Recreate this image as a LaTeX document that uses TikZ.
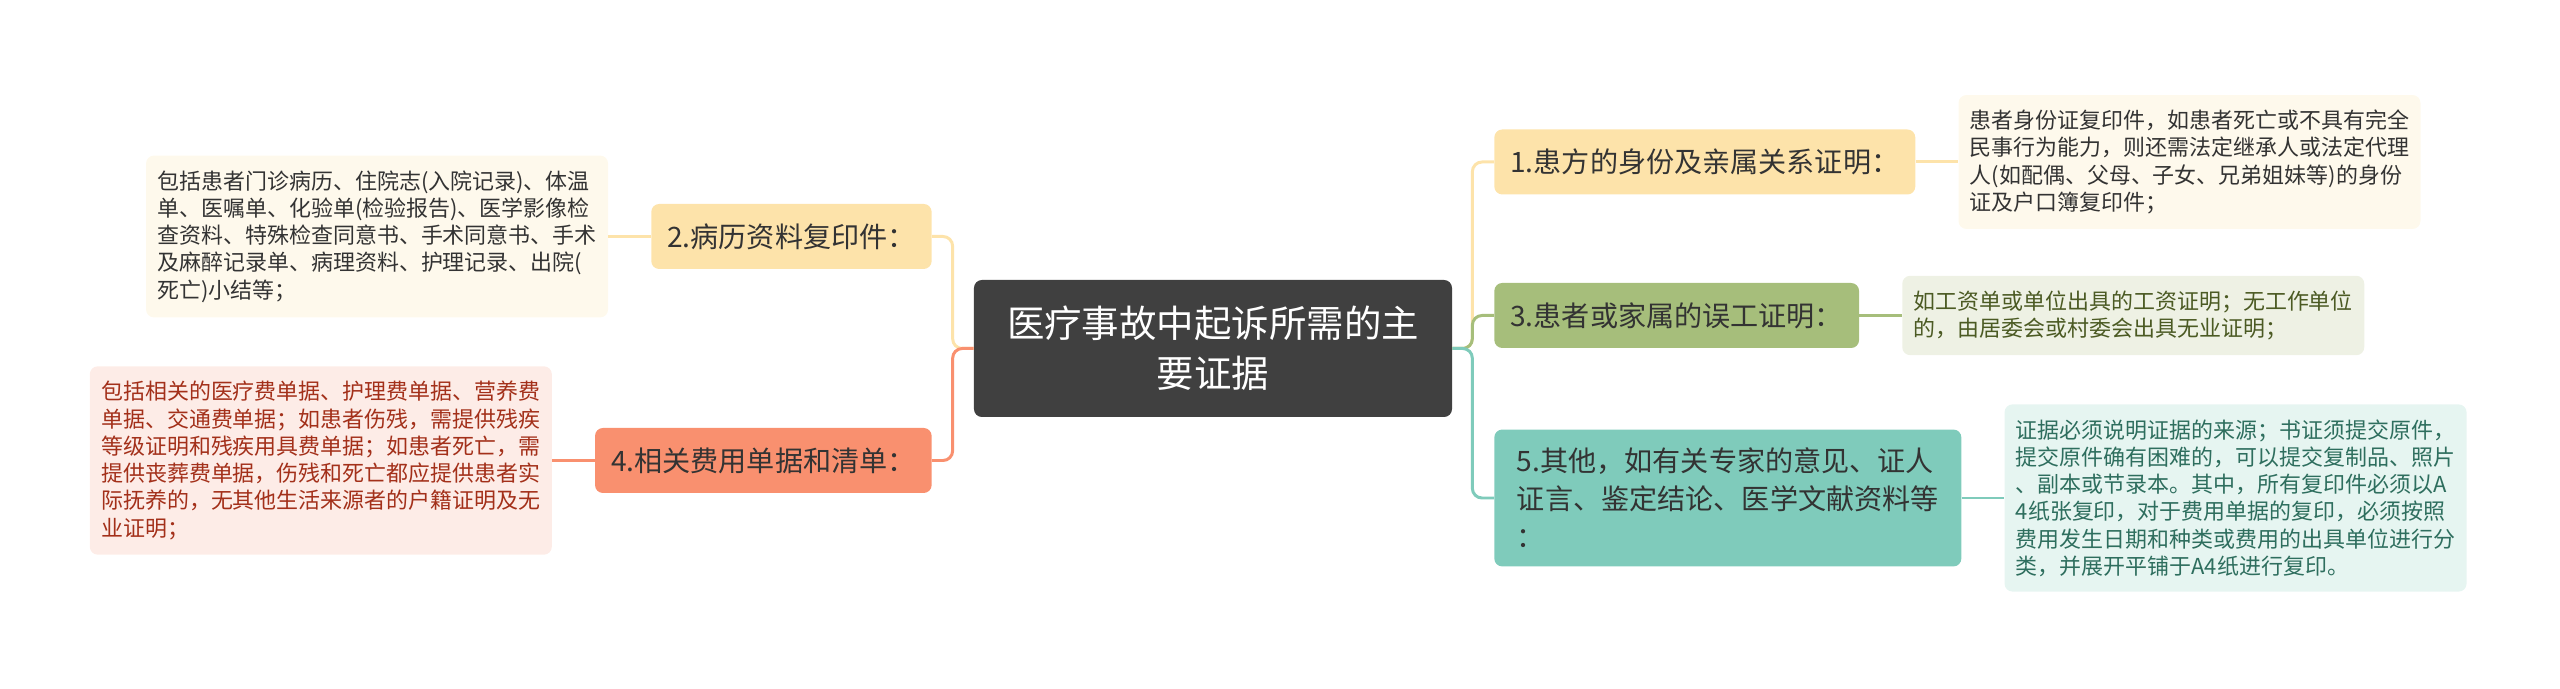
\documentclass[tikz,border=0pt]{standalone}
\usepackage{fontspec}
\newfontfamily\cjk{Noto Sans CJK SC}
\usetikzlibrary{positioning}
\definecolor{rootgray}{HTML}{404040}
\definecolor{sand}{HTML}{FDE3AA}
\definecolor{sandlight}{HTML}{FEF9EC}
\definecolor{olive}{HTML}{A6BE7B}
\definecolor{olivelight}{HTML}{EEF1E4}
\definecolor{olivetext}{HTML}{4B5A23}
\definecolor{mint}{HTML}{7FCBBB}
\definecolor{mintlight}{HTML}{E6F5F1}
\definecolor{minttext}{HTML}{2E6E5E}
\definecolor{coral}{HTML}{F9906F}
\definecolor{corallight}{HTML}{FDECE7}
\definecolor{coraltext}{HTML}{A3301A}

\begin{document}
\begin{tikzpicture}[
    node distance=0.85cm,
    root/.style={fill=rootgray, text=white, rounded corners=4.5pt, minimum width=9.56cm, minimum height=2.74cm, align=center, font=\cjk\fontsize{21.3}{28.4}\selectfont},
    branch/.style={rounded corners=4.5pt, inner xsep=0.32cm, inner ysep=0.37cm, minimum height=1.3cm, align=left, text=black!80, font=\cjk\fontsize{16}{21.6}\selectfont},
    detail/.style={rounded corners=4.5pt, minimum width=9.24cm, inner xsep=0.22cm, inner ysep=0.3cm, align=left, font=\cjk\fontsize{12.5}{15.5}\selectfont},
    link/.style={line width=1.7pt, rounded corners=5.5pt}
]
\useasboundingbox (-24.26,-6.81) rectangle (26.94,6.97);
\node[root] (root) at (0,0) {医疗事故中起诉所需的主\\要证据};

% right side
\node[branch, fill=sand, anchor=west] (n1) at (5.62,3.73) {1.患方的身份及亲属关系证明：};
\node[branch, fill=olive, anchor=west] (n3) at (5.62,0.66) {3.患者或家属的误工证明：};
\node[branch, fill=mint, anchor=west, minimum width=9.34cm] (n5) at (5.62,-2.99) {5.其他，如有关专家的意见、证人\\证言、鉴定结论、医学文献资料等\\：};
\node[detail, fill=sandlight, text=black!80, right=of n1] (d1) {患者身份证复印件，如患者死亡或不具有完全\\民事行为能力，则还需法定继承人或法定代理\\人(如配偶、父母、子女、兄弟姐妹等)的身份\\证及户口簿复印件；};
\node[detail, fill=olivelight, text=olivetext, right=of n3] (d3) {如工资单或单位出具的工资证明；无工作单位\\的，由居委会或村委会出具无业证明；};
\node[detail, fill=mintlight, text=minttext, right=of n5] (d5) {证据必须说明证据的来源；书证须提交原件，\\提交原件确有困难的，可以提交复制品、照片\\、副本或节录本。其中，所有复印件必须以A\\4纸张复印，对于费用单据的复印，必须按照\\费用发生日期和种类或费用的出具单位进行分\\类，并展开平铺于A4纸进行复印。};

% left side
\node[branch, fill=sand, anchor=east] (n2) at (-5.62,2.24) {2.病历资料复印件：};
\node[branch, fill=coral, anchor=east] (n4) at (-5.62,-2.24) {4.相关费用单据和清单：};
\node[detail, fill=sandlight, text=black!80, left=of n2] (d2) {包括患者门诊病历、住院志(入院记录)、体温\\单、医嘱单、化验单(检验报告)、医学影像检\\查资料、特殊检查同意书、手术同意书、手术\\及麻醉记录单、病理资料、护理记录、出院(\\死亡)小结等；};
\node[detail, fill=corallight, text=coraltext, left=of n4] (d4) {包括相关的医疗费单据、护理费单据、营养费\\单据、交通费单据；如患者伤残，需提供残疾\\等级证明和残疾用具费单据；如患者死亡，需\\提供丧葬费单据，伤残和死亡都应提供患者实\\际抚养的，无其他生活来源者的户籍证明及无\\业证明；};

\draw[link, sand] (root.east) -- ++(0.4,0) |- (n1.west);
\draw[link, olive] (root.east) -- ++(0.4,0) |- (n3.west);
\draw[link, mint] (root.east) -- ++(0.4,0) |- (n5.west);
\draw[link, sand] (root.west) -- ++(-0.42,0) |- (n2.east);
\draw[link, coral] (root.west) -- ++(-0.42,0) |- (n4.east);
\draw[link, sand] (n1) -- (d1);
\draw[link, olive] (n3) -- (d3);
\draw[link, mint] (n5) -- (d5);
\draw[link, sand] (n2) -- (d2);
\draw[link, coral] (n4) -- (d4);
\end{tikzpicture}
\end{document}
